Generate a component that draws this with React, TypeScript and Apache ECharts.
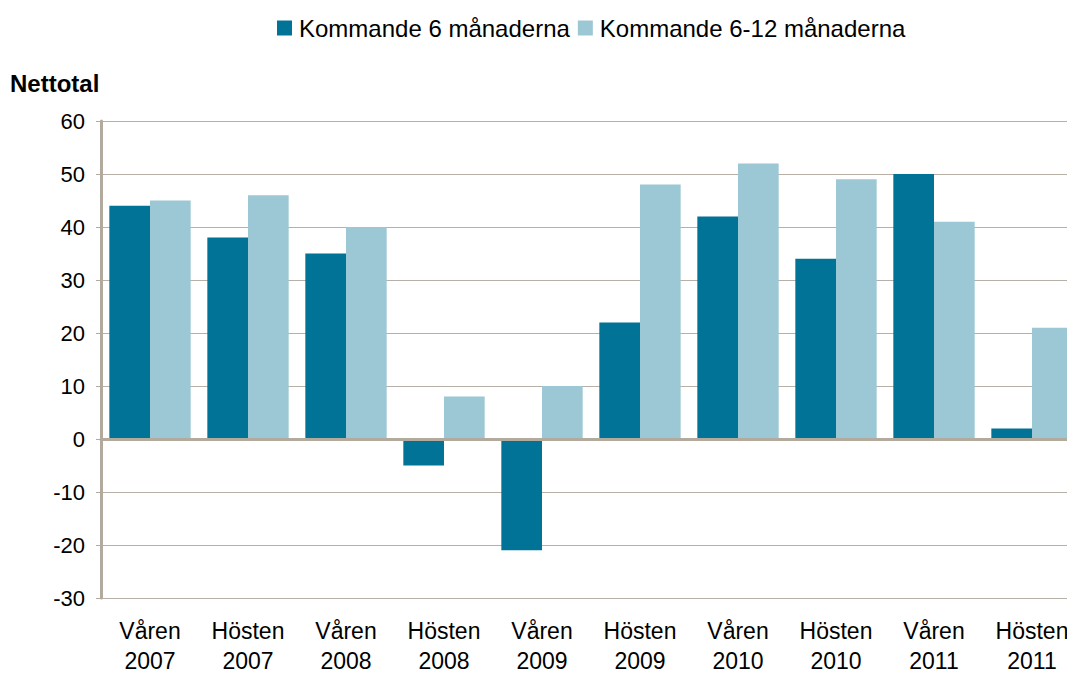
import React, { useEffect, useRef } from "react";
import * as echarts from "echarts";

const categories = [
  "Våren\n2007", "Hösten\n2007", "Våren\n2008", "Hösten\n2008", "Våren\n2009",
  "Hösten\n2009", "Våren\n2010", "Hösten\n2010", "Våren\n2011", "Hösten\n2011",
];
const next6 = [44, 38, 35, -5, -21, 22, 42, 34, 50, 2];
const next6to12 = [45, 46, 40, 8, 10, 48, 52, 49, 41, 21];
const seriesNames = ["Kommande 6 månaderna", "Kommande 6-12 månaderna"];
const yTitle = "Nettotal";

const FONT = "'Liberation Sans', Arial, sans-serif";
const AXIS_COLOR = "#b3aa9e";

export default function App() {
  const ref = useRef<HTMLDivElement>(null);
  useEffect(() => {
    document.body.style.margin = "0";
    document.documentElement.style.overflow = "hidden";
    document.body.style.overflow = "hidden";
    if (!ref.current) return;
    const chart = echarts.init(ref.current, undefined, { renderer: "svg" });
    chart.setOption({
      animation: false,
      backgroundColor: "#ffffff",
      textStyle: { fontFamily: FONT },
      legend: {
        left: 272,
        top: 11,
        itemWidth: 15,
        itemHeight: 15,
        itemGap: 8,
        icon: "rect",
        textStyle: { fontSize: 24, color: "#000", fontFamily: FONT, padding: [0, 0, 0, 2] },
        data: seriesNames,
      },
      graphic: [
        {
          type: "text",
          left: 10,
          top: 71,
          style: { text: yTitle, font: `bold 24px ${FONT}`, fill: "#000" },
        },
      ],
      grid: {
        left: 101,
        top: 121,
        width: 980,
        bottom: 76,
        containLabel: false,
        outerBoundsMode: "none",
      },
      xAxis: {
        type: "category",
        data: categories,
        axisLine: { onZero: true, lineStyle: { color: AXIS_COLOR, width: 3 } },
        axisTick: { show: false },
        axisLabel: {
          fontSize: 23,
          color: "#000",
          fontFamily: FONT,
          margin: 18,
          lineHeight: 30,
          interval: 0,
        },
        z: 5,
      },
      yAxis: {
        type: "value",
        min: -30,
        max: 60,
        interval: 10,
        axisLine: { show: true, lineStyle: { color: AXIS_COLOR, width: 3 } },
        axisTick: { show: true, length: 5, lineStyle: { color: AXIS_COLOR, width: 1 } },
        splitLine: { lineStyle: { color: "#b8b0a6", width: 1 } },
        axisLabel: { fontSize: 22, color: "#000", fontFamily: FONT, margin: 16 },
      },
      series: [
        {
          name: seriesNames[0],
          type: "bar",
          data: next6,
          barGap: "0%",
          barCategoryGap: "17%",
          itemStyle: { color: "#007396" },
        },
        {
          name: seriesNames[1],
          type: "bar",
          data: next6to12,
          itemStyle: { color: "#9cc8d5" },
        },
      ],
    });
    return () => chart.dispose();
  }, []);
  return <div ref={ref} style={{ width: 1067, height: 674 }} />;
}
